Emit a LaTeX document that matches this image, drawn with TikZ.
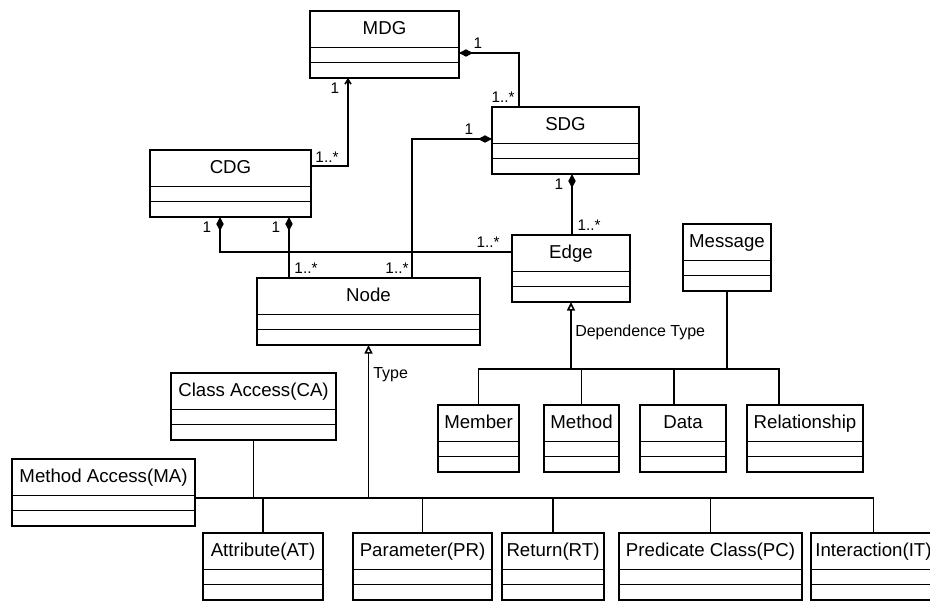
\documentclass[tikz,border=0pt]{standalone}
\usepackage{fontspec}
\setmainfont{Liberation Sans}
\usetikzlibrary{arrows.meta,calc}
\newcommand\umlclass[5]{%
  \node[clsbox, minimum width={(#3-#2)*0.75pt}, anchor=north west] (#1) at (#2,#4) {};
  \node[clstitle, anchor=base] (#1-t) at ($(#1.north)+(0,23)$) {#5};
  \draw[conn] ($(#1.north west)+(0,36.5)$) -- ($(#1.north east)+(0,36.5)$);
  \draw[conn] ($(#1.north west)+(0,51.5)$) -- ($(#1.north east)+(0,51.5)$);
}
\begin{document}
\begin{tikzpicture}[x=0.75pt,y=-0.75pt,
  clsbox/.style={draw, line width=1.2pt, minimum height=50.25pt, inner sep=0pt, outer sep=0pt},
  clstitle/.style={font=\fontsize{14}{16}\selectfont, inner sep=0pt},
  lbl/.style={font=\fontsize{12}{14}\selectfont, inner sep=0pt},
  mult/.style={font=\fontsize{11.5}{13}\selectfont, inner sep=0pt},
  conn/.style={line width=1.2pt},
  comp/.style={conn, {Diamond[length=10.5pt,width=5.5pt]}-},
  inh/.style={conn, -{Triangle[open,length=6.5pt,width=6pt]}},
  nav/.style={conn, -{Straight Barb[length=3.5pt,width=4.5pt]}},
]
\useasboundingbox (0,0) rectangle (930,601);
\fill[white] (0,0) rectangle (930,601);

\umlclass{MDG}{310}{459}{11}{MDG}
\umlclass{SDG}{492}{639}{107}{SDG}
\umlclass{CDG}{150}{311}{150}{CDG}
\umlclass{Edge}{512}{630}{235}{Edge}
\umlclass{Node}{257}{480}{278}{Node}
\umlclass{Message}{683}{771}{224}{Message}
\umlclass{Member}{438}{519}{405}{Member}
\umlclass{Method}{544}{619}{405}{Method}
\umlclass{Data}{640}{726}{405}{Data}
\umlclass{Rel}{747}{863}{405}{Relationship}
\umlclass{CA}{171}{336}{373}{Class Access(CA)}
\umlclass{MA}{12}{195}{459}{Method Access(MA)}
\umlclass{AT}{203}{323}{533}{Attribute(AT)}
\umlclass{PR}{353}{492}{533}{Parameter(PR)}
\umlclass{RT}{502}{604}{533}{Return(RT)}
\umlclass{PC}{619}{802}{533}{Predicate Class(PC)}
\umlclass{IT}{811}{936}{533}{Interaction(IT)}

% associations / compositions
\draw[nav] ($(CDG.north east)+(0,16)$) -| ($(MDG.south west)+(38,0)$);
\draw[comp] ($(MDG.north east)+(0,42)$) -| ($(SDG.north west)+(27,0)$);
\draw[comp] ($(SDG.north west)+(0,32)$) -| ($(Node.north west)+(155,0)$);
\draw[comp] ($(CDG.south west)+(139,0)$) -- ($(Node.north west)+(32,0)$);
\draw[comp] ($(CDG.south west)+(70,0)$) |- ($(Edge.north west)+(0,17)$);
\draw[comp] ($(SDG.south west)+(80,0)$) -- ($(Edge.north west)+(60,0)$);

% Edge generalisation
\coordinate (busE) at ($(Edge.south)+(0,67)$);
\draw[inh] (busE) -- (Edge.south);
\draw[conn] (Member.north) |- ($(Rel.north west)+(32,-36)$) -- ($(Rel.north west)+(32,0)$);
\draw[conn] (Method.north) -- (Method.north |- busE);
\draw[conn] ($(Data.north west)+(34,0)$) -- ($(Data.north west)+(34,-36)$);
\draw[conn] (Message.south) -- (Message.south |- busE);

% Node generalisation
\coordinate (busN) at ($(Node.south)+(0,153)$);
\draw[inh] (busN) -- (Node.south);
\draw[conn] (MA.east |- busN) -- (IT.north |- busN) -- (IT.north);
\draw[conn] (CA.south) -- (CA.south |- busN);
\draw[conn] (AT.north) -- (AT.north |- busN);
\draw[conn] (PR.north) -- (PR.north |- busN);
\draw[conn] (RT.north) -- (RT.north |- busN);
\draw[conn] (PC.north) -- (PC.north |- busN);

% labels
\node[lbl, anchor=base west] (ltype) at (373,378) {Type};
\node[lbl, anchor=base west] (ldep) at (575,336) {Dependence Type};

\node[mult] (m1) at (478,43) {1};
\node[mult] (m2) at (503,97) {1..*};
\node[mult] (m3) at (335,88) {1};
\node[mult] (m4) at (327,157) {1..*};
\node[mult] (m5) at (469,129) {1};
\node[mult] (m6) at (207,227) {1};
\node[mult] (m7) at (276,227) {1};
\node[mult] (m8) at (306,268) {1..*};
\node[mult] (m9) at (397,268) {1..*};
\node[mult] (m10) at (488,242) {1..*};
\node[mult] (m11) at (559,184) {1};
\node[mult] (m12) at (589,225) {1..*};
\end{tikzpicture}
\end{document}
